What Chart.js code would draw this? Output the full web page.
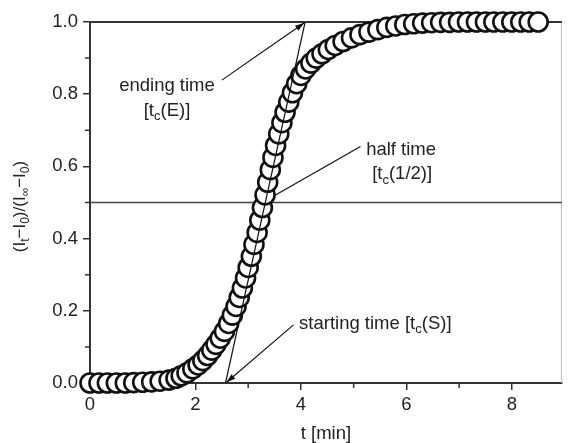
<!DOCTYPE html>
<html>
<head>
<meta charset="utf-8">
<script src="https://cdn.jsdelivr.net/npm/chart.js@4.4.1/dist/chart.umd.min.js"></script>
<style>
  html, body { margin: 0; padding: 0; background: #fff; }
</style>
</head>
<body>
<canvas id="chart" width="574" height="443"></canvas>
<script>
// kinetic curve: time in min, normalised intensity
const timeMin = [
  0.00, 0.17, 0.33, 0.50, 0.67, 0.83, 1.00, 1.17, 1.33, 1.50,
  1.63, 1.73, 1.84, 1.95, 2.05, 2.14, 2.23, 2.31, 2.39, 2.47,
  2.55, 2.63, 2.70, 2.77, 2.83, 2.89, 2.95, 3.00, 3.06, 3.11,
  3.17, 3.22, 3.27, 3.32, 3.37, 3.42, 3.47, 3.52, 3.58, 3.64,
  3.70, 3.77, 3.84, 3.92, 4.00, 4.09, 4.19, 4.29, 4.40, 4.52,
  4.65, 4.80, 4.96, 5.12, 5.29, 5.46, 5.63, 5.80, 5.97, 6.14,
  6.31, 6.48, 6.65, 6.82, 6.99, 7.16, 7.33, 7.50, 7.66, 7.83,
  8.00, 8.17, 8.33, 8.50
];
const intensity = [
  0.000, 0.000, 0.000, 0.000, 0.000, 0.001, 0.002, 0.003, 0.005, 0.008,
  0.013, 0.020, 0.028, 0.039, 0.050, 0.062, 0.076, 0.091, 0.107, 0.124,
  0.143, 0.165, 0.188, 0.212, 0.237, 0.263, 0.291, 0.320, 0.351, 0.384,
  0.417, 0.451, 0.486, 0.521, 0.556, 0.591, 0.625, 0.658, 0.690, 0.721,
  0.750, 0.778, 0.804, 0.829, 0.852, 0.870, 0.886, 0.900, 0.912, 0.924,
  0.935, 0.946, 0.956, 0.965, 0.972, 0.979, 0.985, 0.989, 0.993, 0.995,
  0.997, 0.998, 0.999, 0.999, 1.000, 1.000, 1.000, 1.000, 1.000, 1.000,
  1.000, 1.000, 1.000, 1.000
];

const xTicks = [0, 1, 2, 3, 4, 5, 6, 7, 8];
const yTicks = [0, 0.1, 0.2, 0.3, 0.4, 0.5, 0.6, 0.7, 0.8, 0.9, 1.0];
const xRange = [0, 8.95];
const yRange = [0, 1];

const halfLevel = 0.5;
const tangentT = [2.57, 4.08];
const tangentY = [0, 1];

// pointers (data units): [t, y]
const endingFrom = [2.50, 0.839], endingTo = [4.06, 0.997];
const halfFrom = [5.13, 0.655], halfTo = [3.51, 0.52];
const startFrom = [3.86, 0.161], startTo = [2.59, 0.002];

// label anchors (data units)
const endingAt = [1.46, 0.822], endingAt2 = [1.46, 0.755];
const halfAt = [5.90, 0.647], halfAt2 = [5.92, 0.578];
const startAt = [3.965, 0.164];

const FONT = "'Liberation Sans', Arial, sans-serif";
const INK = '#222';

const isMajorX = v => v % 2 === 0;
const isMajorY = v => Math.round(v * 10) % 2 === 0;

// text with subscripts: parts = [[text, isSub], ...]
function richText(ctx, parts, x, y, size, align) {
  const big = size + 'px ' + FONT;
  const small = Math.round(size * 0.68) + 'px ' + FONT;
  let w = 0;
  parts.forEach(p => { ctx.font = p[1] ? small : big; w += ctx.measureText(p[0]).width; });
  let cx = align === 'center' ? x - w / 2 : x;
  ctx.textAlign = 'left';
  ctx.textBaseline = 'middle';
  parts.forEach(p => {
    ctx.font = p[1] ? small : big;
    ctx.fillText(p[0], cx, p[1] ? y + size * 0.32 : y);
    cx += ctx.measureText(p[0]).width;
  });
}

function arrow(ctx, x1, y1, x2, y2, head) {
  ctx.beginPath();
  ctx.moveTo(x1, y1);
  ctx.lineTo(x2, y2);
  ctx.stroke();
  if (!head) return;
  const a = Math.atan2(y2 - y1, x2 - x1);
  ctx.beginPath();
  ctx.moveTo(x2, y2);
  ctx.lineTo(x2 - 9 * Math.cos(a) + 3 * Math.sin(a), y2 - 9 * Math.sin(a) - 3 * Math.cos(a));
  ctx.lineTo(x2 - 9 * Math.cos(a) - 3 * Math.sin(a), y2 - 9 * Math.sin(a) + 3 * Math.cos(a));
  ctx.closePath();
  ctx.fill();
}

const framePlugin = {
  id: 'frame',
  beforeDatasetsDraw(chart) {
    const { ctx, chartArea: a } = chart;
    ctx.save();
    ctx.strokeStyle = '#bbb';
    ctx.lineWidth = 1;
    ctx.beginPath();
    ctx.moveTo(a.right - 0.5, a.top);
    ctx.lineTo(a.right - 0.5, a.bottom);
    ctx.stroke();
    ctx.strokeStyle = '#333';
    ctx.lineWidth = 2;
    ctx.beginPath();
    ctx.moveTo(a.left, a.top);
    ctx.lineTo(a.right, a.top);
    ctx.stroke();
    ctx.restore();
  },
  // shorter minor ticks
  afterDraw(chart) {
    const { ctx, chartArea: a } = chart;
    const sx = chart.scales.x, sy = chart.scales.y;
    ctx.save();
    ctx.strokeStyle = '#333';
    ctx.lineWidth = 1.5;
    ctx.beginPath();
    xTicks.filter(v => !isMajorX(v)).forEach(v => {
      const x = sx.getPixelForValue(v);
      ctx.moveTo(x, a.bottom);
      ctx.lineTo(x, a.bottom + 5);
    });
    yTicks.filter(v => !isMajorY(v)).forEach(v => {
      const y = sy.getPixelForValue(v);
      ctx.moveTo(a.left, y);
      ctx.lineTo(a.left - 5, y);
    });
    ctx.stroke();
    ctx.restore();
  }
};

const notesPlugin = {
  id: 'notes',
  afterDraw(chart) {
    const { ctx, chartArea: a } = chart;
    const sx = chart.scales.x, sy = chart.scales.y;
    const px = p => [sx.getPixelForValue(p[0]), sy.getPixelForValue(p[1])];
    ctx.save();
    ctx.strokeStyle = '#111';
    ctx.fillStyle = '#111';
    ctx.lineWidth = 1.2;
    let p, q;
    p = px(endingFrom); q = px(endingTo); arrow(ctx, p[0], p[1], q[0], q[1], true);
    p = px(halfFrom); q = px(halfTo); arrow(ctx, p[0], p[1], q[0], q[1], false);
    p = px(startFrom); q = px(startTo); arrow(ctx, p[0], p[1], q[0], q[1], true);

    ctx.fillStyle = INK;
    p = px(endingAt); richText(ctx, [['ending time', false]], p[0], p[1], 18.5, 'center');
    p = px(endingAt2); richText(ctx, [['[t', false], ['c', true], ['(E)]', false]], p[0], p[1], 18.5, 'center');
    p = px(halfAt); richText(ctx, [['half time', false]], p[0], p[1], 18.5, 'center');
    p = px(halfAt2); richText(ctx, [['[t', false], ['c', true], ['(1/2)]', false]], p[0], p[1], 18.5, 'center');
    p = px(startAt); richText(ctx, [['starting time [t', false], ['c', true], ['(S)]', false]], p[0], p[1], 18.5, 'left');

    // y axis title, rotated
    ctx.translate(20, (a.top + a.bottom) / 2 + 4);
    ctx.rotate(-Math.PI / 2);
    richText(ctx, [['(I', false], ['t', true], ['\u2212I', false], ['0', true], [')/(I', false],
                   ['\u221E', true], ['\u2212I', false], ['0', true], [')', false]], 0, 0, 17, 'center');
    ctx.restore();
  }
};

const points = timeMin.map((t, i) => ({ x: t, y: intensity[i] }));

new Chart(document.getElementById('chart'), {
  type: 'scatter',
  data: {
    datasets: [
      {
        label: 'data',
        data: points,
        pointRadius: 9.5,
        pointBorderWidth: 2.6,
        pointBackgroundColor: '#fff',
        pointBorderColor: '#111',
        showLine: false,
        clip: false,
        order: 2
      },
      {
        label: 'half',
        data: [{ x: xRange[0], y: halfLevel }, { x: xRange[1], y: halfLevel }],
        showLine: true,
        pointRadius: 0,
        borderColor: '#444',
        borderWidth: 1.5,
        order: 3
      },
      {
        label: 'tangent',
        data: [{ x: tangentT[0], y: tangentY[0] }, { x: tangentT[1], y: tangentY[1] }],
        showLine: true,
        pointRadius: 0,
        borderColor: '#111',
        borderWidth: 1.2,
        order: 1
      }
    ]
  },
  options: {
    responsive: false,
    animation: false,
    devicePixelRatio: 1,
    layout: { padding: { top: 22, right: 1, left: 0, bottom: 0 } },
    plugins: { legend: { display: false }, tooltip: { enabled: false } },
    scales: {
      x: {
        type: 'linear',
        min: xRange[0],
        max: xRange[1],
        z: 1,
        afterFit: s => { s.height = 60; },
        afterBuildTicks: s => { s.ticks = xTicks.map(v => ({ value: v })); },
        ticks: {
          autoSkip: false,
          maxRotation: 0,
          padding: 4,
          color: INK,
          font: { family: FONT, size: 18.5 },
          callback: v => (isMajorX(v) ? String(v) : '')
        },
        grid: {
          drawOnChartArea: false, drawTicks: true, tickLength: 7, color: '#333', lineWidth: 1.5,
          tickColor: c => (isMajorX(c.tick.value) ? '#333' : 'rgba(0,0,0,0)')
        },
        border: { color: '#333', width: 2 },
        title: { display: true, text: 't [min]', color: INK, font: { family: FONT, size: 18.5, lineHeight: 1 }, padding: { top: 0, bottom: 0 } }
      },
      y: {
        type: 'linear',
        min: yRange[0],
        max: yRange[1],
        z: 1,
        afterFit: s => { s.width = 90; },
        afterBuildTicks: s => { s.ticks = yTicks.map(v => ({ value: v })); },
        ticks: {
          autoSkip: false,
          padding: 5,
          color: INK,
          font: { family: FONT, size: 18.5 },
          callback: v => (isMajorY(v) ? v.toFixed(1) : '')
        },
        grid: {
          drawOnChartArea: false, drawTicks: true, tickLength: 7, color: '#333', lineWidth: 1.5,
          tickColor: c => (isMajorY(c.tick.value) ? '#333' : 'rgba(0,0,0,0)')
        },
        border: { color: '#333', width: 2 }
      }
    }
  },
  plugins: [framePlugin, notesPlugin]
});
</script>
</body>
</html>
